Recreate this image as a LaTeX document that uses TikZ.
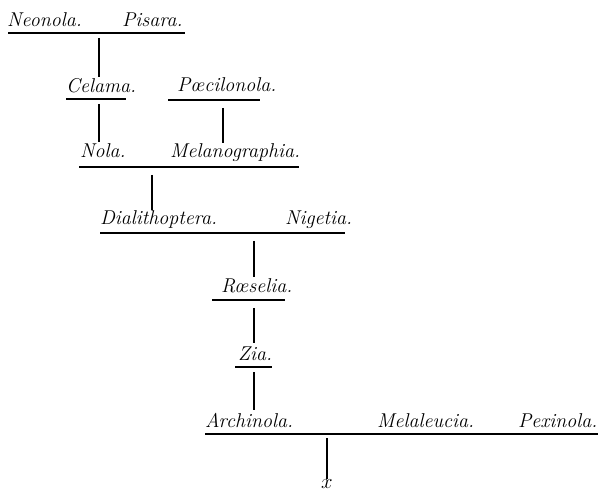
\documentclass[tikz,border=0pt]{standalone}
\usepackage{fontspec}
\begin{document}
\begin{tikzpicture}[x=1pt,y=-1pt,
  genus/.style={anchor=base west, inner sep=0pt, font=\fontsize{20}{24}\selectfont\itshape\addfontfeatures{FakeBold=0.6}},
  rule/.style={line width=1.2pt},
  link/.style={line width=1.5pt}]
\useasboundingbox (0,0) rectangle (598,492);
\fill[white] (0,0) rectangle (598,492);
% row 1
\node[genus] (neonola) at (7,27) {Neonola.};
\node[genus] (pisara) at (122,27) {Pisara.};
\coordinate (r1a) at (8,33); \coordinate (r1b) at (185,33);
\draw[rule] (r1a) -- (r1b);
% row 2
\node[genus] (celama) at (66,93) {Celama.};
\node[genus] (poecilonola) at (177,92) {P\oe cilonola.};
\coordinate (r2a) at (66,99); \coordinate (r2b) at (126,99);
\coordinate (r2c) at (168,100); \coordinate (r2d) at (260,100);
\draw[rule] (r2a) -- (r2b);
\draw[rule] (r2c) -- (r2d);
\coordinate (v1a) at (99,38); \coordinate (v1b) at (99,77);
\draw[link] (v1a) -- (v1b);
% row 3
\node[genus] (nola) at (80,158) {Nola.};
\node[genus] (melanographia) at (170,158) {Melanographia.};
\coordinate (r3a) at (79,167); \coordinate (r3b) at (299,167);
\draw[rule] (r3a) -- (r3b);
\coordinate (v2a) at (99,104); \coordinate (v2b) at (99,142);
\draw[link] (v2a) -- (v2b);
\coordinate (v3a) at (223,108); \coordinate (v3b) at (223,143);
\draw[link] (v3a) -- (v3b);
% row 4
\node[genus] (dialithoptera) at (100,225) {Dialithoptera.};
\node[genus] (nigetia) at (285,225) {Nigetia.};
\coordinate (r4a) at (100,233); \coordinate (r4b) at (345,233);
\draw[rule] (r4a) -- (r4b);
\coordinate (v4a) at (152,175); \coordinate (v4b) at (152,210);
\draw[link] (v4a) -- (v4b);
% row 5
\node[genus] (roeselia) at (221,293) {R\oe selia.};
\coordinate (r5a) at (212,300); \coordinate (r5b) at (285,300);
\draw[rule] (r5a) -- (r5b);
\coordinate (v5a) at (254,241); \coordinate (v5b) at (254,277);
\draw[link] (v5a) -- (v5b);
% row 6
\node[genus] (zia) at (238,360) {Zia.};
\coordinate (r6a) at (235,367); \coordinate (r6b) at (272,367);
\draw[rule] (r6a) -- (r6b);
\coordinate (v6a) at (254,308); \coordinate (v6b) at (254,343);
\draw[link] (v6a) -- (v6b);
% row 7
\node[genus] (archinola) at (205,427) {Archinola.};
\node[genus] (melaleucia) at (377,427) {Melaleucia.};
\node[genus] (pexinola) at (518,427) {Pexinola.};
\coordinate (r7a) at (205,434); \coordinate (r7b) at (598,434);
\draw[rule] (r7a) -- (r7b);
\coordinate (v7a) at (254,372); \coordinate (v7b) at (254,410);
\draw[link] (v7a) -- (v7b);
% root
\node[anchor=base, inner sep=0pt, font=\fontsize{20}{24}\selectfont\addfontfeatures{FakeBold=0.6}] (x) at (327,488) {$x$};
\coordinate (v8a) at (327,438);
\draw[link] (v8a) -- (x.north);
\end{tikzpicture}
\end{document}
